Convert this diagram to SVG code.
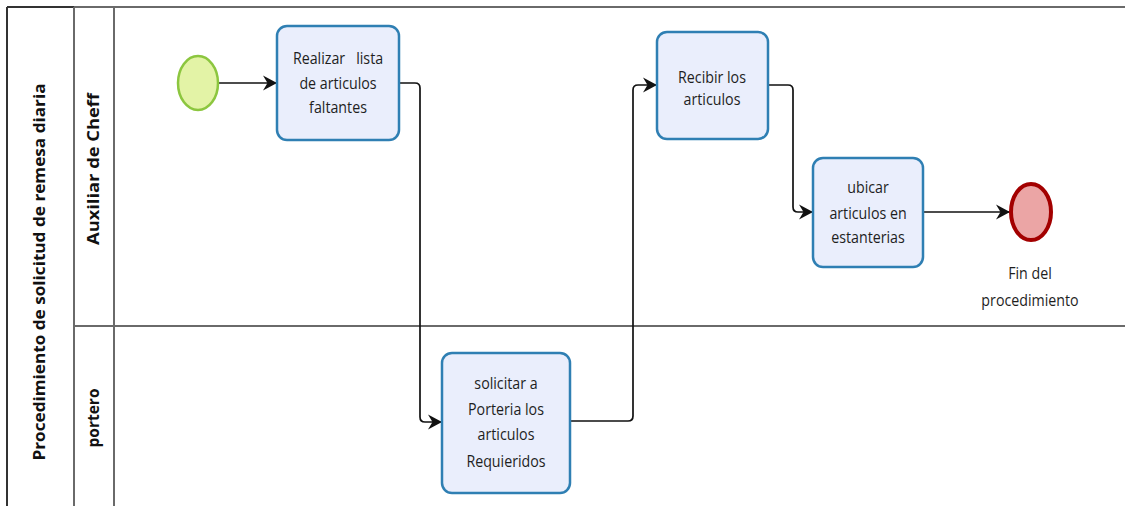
<svg xmlns="http://www.w3.org/2000/svg" width="1125" height="506" viewBox="0 0 1125 506">
  <defs>
    <marker id="arrow" markerUnits="userSpaceOnUse" markerWidth="18" markerHeight="18" refX="15" refY="9" orient="auto">
      <path d="M1,1.5 L15,9 L1,16.5 L5.5,9 Z" fill="#111"/>
    </marker>
    <style>
      .pool { stroke: #6a6a6a; stroke-width: 2; fill: none; }
      .pool-dark { stroke: #333; stroke-width: 2; fill: none; }
      .task { fill: #eaeefc; stroke: #2f7fb3; stroke-width: 2.5; }
      .lbl { font-family: "Open Sans", "Noto Sans", sans-serif; font-size: 16px; fill: #1e1e1e; text-anchor: middle; }
      .lane { font-family: "Open Sans", "Noto Sans", sans-serif; font-size: 15.5px; font-weight: bold; fill: #111; text-anchor: middle; }
      .flow { fill: none; stroke: #111; stroke-width: 1.7; }
    </style>
  </defs>

  <rect width="1125" height="506" fill="#ffffff"/>

  <!-- pool and lanes -->
  <g id="pool">
    <line class="pool-dark" x1="7" y1="7" x2="74" y2="7"/>
    <line class="pool" x1="74" y1="7" x2="1125" y2="7"/>
    <line class="pool-dark" x1="7" y1="7" x2="7" y2="506"/>
    <line class="pool" x1="74" y1="7" x2="74" y2="506"/>
    <line class="pool" x1="114" y1="7" x2="114" y2="506"/>
    <line class="pool" x1="74" y1="326" x2="1125" y2="326"/>
    <text class="lane" transform="translate(45,272) rotate(-90)" textLength="377" lengthAdjust="spacingAndGlyphs">Procedimiento de solicitud de remesa diaria</text>
  </g>
  <g id="lane-auxiliar">
    <text class="lane" transform="translate(99,169) rotate(-90)" textLength="152" lengthAdjust="spacingAndGlyphs">Auxiliar de Cheff</text>
  </g>
  <g id="lane-portero">
    <text class="lane" transform="translate(99,418) rotate(-90)">portero</text>
  </g>

  <!-- sequence flows -->
  <g id="connectors">
    <path class="flow" d="M219,83 H277" marker-end="url(#arrow)"/>
    <path class="flow" d="M399,83 H415 Q420,83 420,88 V417 Q420,422 425,422 H442" marker-end="url(#arrow)"/>
    <path class="flow" d="M570,421 H628 Q633,421 633,416 V90 Q633,85 638,85 H657" marker-end="url(#arrow)"/>
    <path class="flow" d="M768,85 H788 Q793,85 793,90 V207 Q793,212 798,212 H813" marker-end="url(#arrow)"/>
    <path class="flow" d="M923,212 H1010" marker-end="url(#arrow)"/>
  </g>

  <!-- start event -->
  <g id="start">
    <ellipse cx="198" cy="83" rx="20" ry="27" fill="#e3f3a6" stroke="#8cc63f" stroke-width="2.5"/>
  </g>

  <!-- tasks -->
  <g id="task-realizar">
    <rect class="task" x="277" y="26" width="122" height="114" rx="10"/>
    <g transform="translate(338,0) scale(0.89,1)">
      <text class="lbl" x="0" y="64" xml:space="preserve">Realizar   lista</text>
      <text class="lbl" x="0" y="89">de articulos</text>
      <text class="lbl" x="0" y="113">faltantes</text>
    </g>
  </g>

  <g id="task-solicitar">
    <rect class="task" x="442" y="353" width="128" height="140" rx="10"/>
    <g transform="translate(506,0) scale(0.89,1)">
      <text class="lbl" x="0" y="389">solicitar a</text>
      <text class="lbl" x="0" y="415">Porteria los</text>
      <text class="lbl" x="0" y="440">articulos</text>
      <text class="lbl" x="0" y="467">Requieridos</text>
    </g>
  </g>

  <g id="task-recibir">
    <rect class="task" x="657" y="32" width="111" height="107" rx="10"/>
    <g transform="translate(712,0) scale(0.89,1)">
      <text class="lbl" x="0" y="83">Recibir los</text>
      <text class="lbl" x="0" y="105">articulos</text>
    </g>
  </g>

  <g id="task-ubicar">
    <rect class="task" x="813" y="158" width="110" height="109" rx="10"/>
    <g transform="translate(868,0) scale(0.89,1)">
      <text class="lbl" x="0" y="193">ubicar</text>
      <text class="lbl" x="0" y="219">articulos en</text>
      <text class="lbl" x="0" y="243">estanterias</text>
    </g>
  </g>

  <!-- end event -->
  <g id="end">
    <ellipse cx="1031" cy="212" rx="20" ry="28" fill="#eba5a5" stroke="#a30000" stroke-width="4"/>
    <g transform="translate(1030,0) scale(0.89,1)">
      <text class="lbl" x="0" y="279">Fin del</text>
      <text class="lbl" x="0" y="306">procedimiento</text>
    </g>
  </g>
</svg>
